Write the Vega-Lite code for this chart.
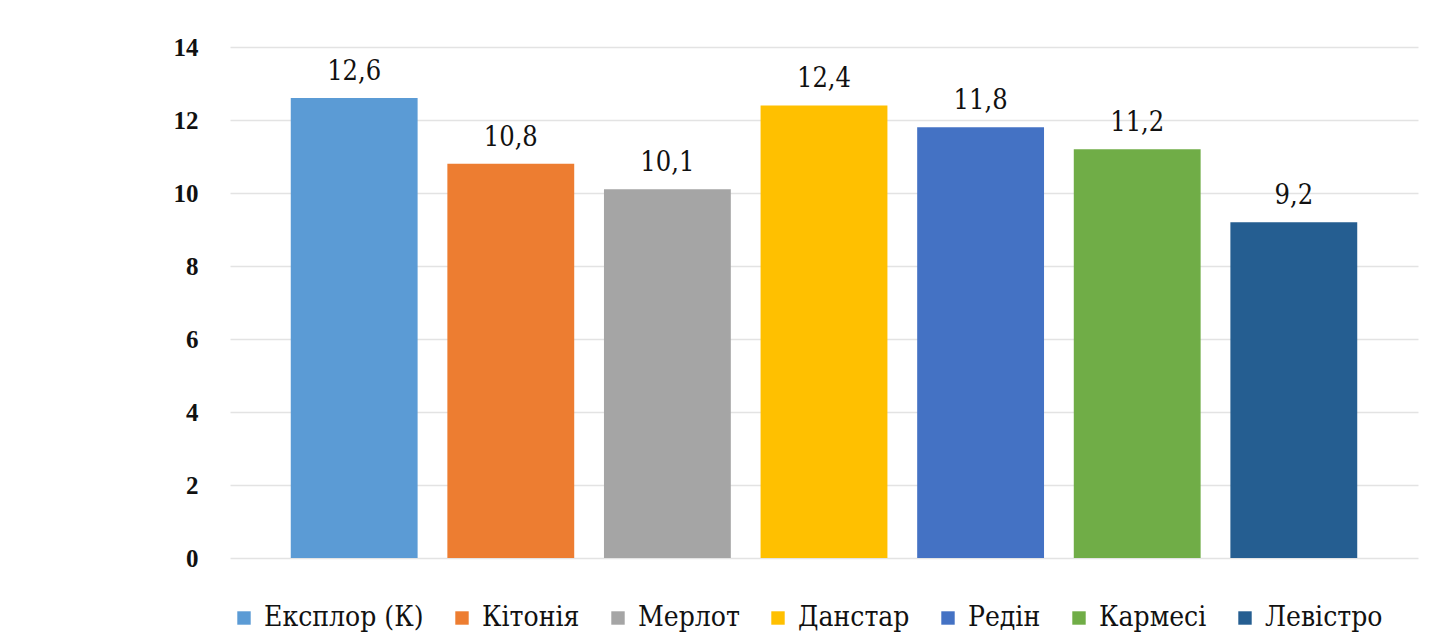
{
  "$schema": "https://vega.github.io/schema/vega-lite/v6.json",
  "width": 1188,
  "height": 511,
  "autosize": {"type": "none"},
  "padding": {"left": 230, "top": 47, "right": 23, "bottom": 77},
  "background": "white",
  "config": {
    "locale": {"number": {"decimal": ",", "thousands": " ", "grouping": [3], "currency": ["", ""]}},
    "view": {"stroke": null}
  },
  "data": {
    "values": [
      {"sort": 1, "variety": "Експлор (К)", "value": 12.6},
      {"sort": 2, "variety": "Кітонія", "value": 10.8},
      {"sort": 3, "variety": "Мерлот", "value": 10.1},
      {"sort": 4, "variety": "Данстар", "value": 12.4},
      {"sort": 5, "variety": "Редін", "value": 11.8},
      {"sort": 6, "variety": "Кармесі", "value": 11.2},
      {"sort": 7, "variety": "Левістро", "value": 9.2}
    ]
  },
  "encoding": {
    "x": {
      "field": "variety", "type": "nominal", "sort": {"field": "sort"},
      "scale": {"paddingInner": 0.19, "paddingOuter": 0.388},
      "axis": null
    },
    "y": {
      "field": "value", "type": "quantitative",
      "scale": {"domain": [0, 14], "nice": false},
      "axis": {
        "values": [0, 2, 4, 6, 8, 10, 12, 14],
        "title": null, "domain": false, "ticks": false,
        "labelFont": "Liberation Serif", "labelFontWeight": "bold", "labelFontSize": 25,
        "labelColor": "#111", "labelPadding": 32,
        "gridColor": "#e3e3e3", "gridWidth": 1.5
      }
    }
  },
  "layer": [
    {
      "mark": {"type": "bar"},
      "encoding": {
        "color": {
          "field": "variety", "type": "nominal", "sort": {"field": "sort"},
          "scale": {
            "domain": ["Експлор (К)", "Кітонія", "Мерлот", "Данстар", "Редін", "Кармесі", "Левістро"],
            "range": ["#5B9BD5", "#ED7D31", "#A5A5A5", "#FFC000", "#4472C4", "#70AD47", "#255E91"]
          },
          "legend": {
            "orient": "bottom", "direction": "horizontal", "title": null,
            "columns": 7, "offset": 46,
            "symbolType": "square", "symbolSize": 180, "symbolStrokeWidth": 0,
            "labelFont": "DejaVu Serif Condensed", "labelFontSize": 28, "labelColor": "#111",
            "columnPadding": 24, "labelOffset": 6, "labelLimit": 300
          }
        }
      }
    },
    {
      "mark": {"type": "text", "baseline": "bottom", "dy": -12, "font": "DejaVu Serif Condensed", "fontSize": 27, "color": "#111"},
      "encoding": {
        "text": {"field": "value", "type": "quantitative", "format": ".1f"}
      }
    }
  ]
}
